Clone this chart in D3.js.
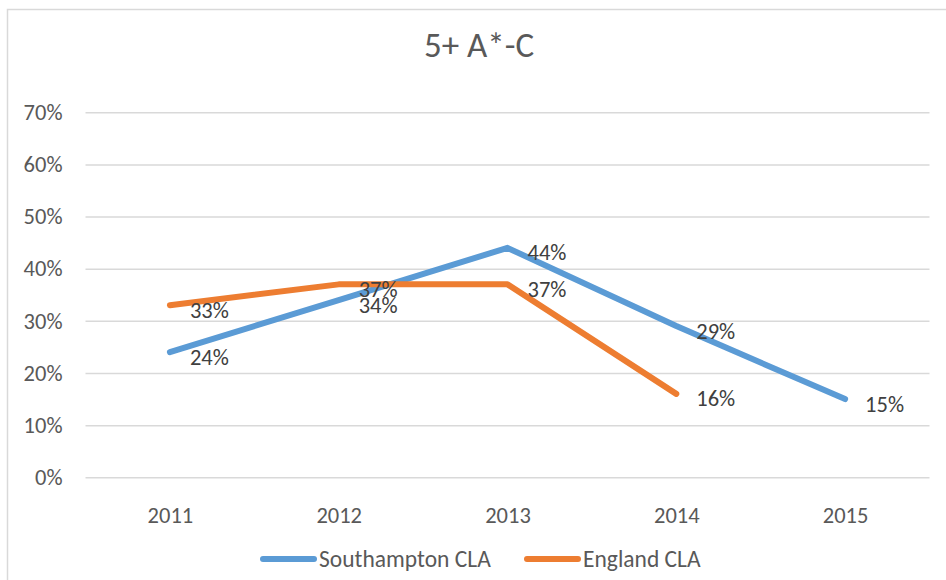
<!DOCTYPE html>
<html lang="en">
<head>
<meta charset="utf-8">
<title>5+ A*-C</title>
<script src="https://d3js.org/d3.v7.min.js"></script>
<style type="text/css">
  body { margin: 0; background: #ffffff; }
  text { font-family: Carlito, Calibri, Lato, sans-serif; }
</style>
</head>
<body>
<div id="chart"></div>
<script>
// data
const years = ["2011", "2012", "2013", "2014", "2015"];
const southampton = [0.24, 0.34, 0.44, 0.29, 0.15];
const england = [0.33, 0.37, 0.37, 0.16, null];
const yTicks = [0, 0.1, 0.2, 0.3, 0.4, 0.5, 0.6, 0.7];
const seriesNames = ["Southampton CLA", "England CLA"];
const seriesColors = ["#5B9BD5", "#ED7D31"];

const width = 946, height = 580;
const plot = {left: 85.5, right: 929.5, top: 112.3, bottom: 477.3};
const FONT = 22.5;

const svg = d3.select("#chart").append("svg")
  .attr("width", width)
  .attr("height", height);

// chart border (cut off on the right and bottom in the picture)
svg.append("rect")
  .attr("x", 7.5).attr("y", 9.5)
  .attr("width", 1000).attr("height", 1000)
  .attr("fill", "#fff")
  .attr("stroke", "#d9d9d9")
  .attr("stroke-width", 1.5);

const x = d3.scalePoint()
  .domain(years)
  .range([plot.left, plot.right])
  .padding(0.5);

const y = d3.scaleLinear()
  .domain([0, 0.7])
  .range([plot.bottom, plot.top]);

// title
svg.append("text")
  .attr("x", 479).attr("y", 57)
  .attr("text-anchor", "middle")
  .attr("font-size", 35)
  .attr("font-weight", 300)
  .attr("fill", "#595959")
  .text("5+ A*-C");

// gridlines + y labels
const yAxis = d3.axisLeft(y)
  .tickValues(yTicks)
  .tickFormat(d3.format(".0%"))
  .tickSize(-(plot.right - plot.left))
  .tickPadding(23);

const gy = svg.append("g")
  .attr("transform", `translate(${plot.left},0)`)
  .call(yAxis);
gy.select(".domain").remove();
gy.selectAll(".tick line")
  .attr("stroke", "#d9d9d9")
  .attr("stroke-width", 1.5);
gy.selectAll(".tick text")
  .attr("font-size", FONT)
  .attr("fill", "#595959");

// x labels
const xAxis = d3.axisBottom(x).tickSize(0).tickPadding(0);
const gx = svg.append("g")
  .attr("transform", `translate(0,${plot.bottom})`)
  .call(xAxis);
gx.select(".domain").remove();
gx.selectAll(".tick text")
  .attr("font-size", FONT)
  .attr("fill", "#595959")
  .attr("dy", null)
  .attr("y", 38.5)
  .attr("dominant-baseline", "central");

const line = d3.line()
  .defined(d => d != null)
  .x((d, i) => x(years[i]))
  .y(d => y(d));

const allSeries = [southampton, england];

allSeries.forEach((vals, si) => {
  svg.append("path")
    .datum(vals)
    .attr("d", line)
    .attr("fill", "none")
    .attr("stroke", seriesColors[si])
    .attr("stroke-width", 6)
    .attr("stroke-linecap", "round")
    .attr("stroke-linejoin", "round");
});

// data labels, right of each point
allSeries.forEach((vals, si) => {
  svg.append("g")
    .selectAll("text")
    .data(vals.map((v, i) => ({v, year: years[i]})).filter(d => d.v != null))
    .join("text")
    .attr("x", d => x(d.year) + 20)
    .attr("y", d => y(d.v) + 5)
    .attr("dominant-baseline", "central")
    .attr("font-size", FONT)
    .attr("fill", "#404040")
    .text(d => d3.format(".0%")(d.v));
});

// legend
const legendX = [263, 527];
const legend = svg.append("g");
seriesNames.forEach((name, i) => {
  legend.append("line")
    .attr("x1", legendX[i]).attr("x2", legendX[i] + 51)
    .attr("y1", 559).attr("y2", 559)
    .attr("stroke", seriesColors[i])
    .attr("stroke-width", 6)
    .attr("stroke-linecap", "round");
  legend.append("text")
    .attr("x", legendX[i] + 56)
    .attr("y", 559)
    .attr("dominant-baseline", "central")
    .attr("font-size", 23.5)
    .attr("fill", "#595959")
    .text(name);
});
</script>
</body>
</html>
